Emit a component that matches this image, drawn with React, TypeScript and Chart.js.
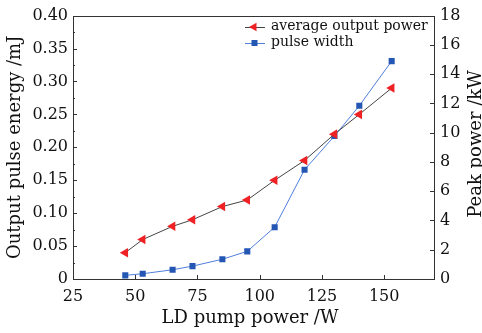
import React, { useEffect, useRef } from "react";
import { Chart, registerables } from "chart.js";

Chart.register(...registerables);

const pumpPower = [46, 53, 65, 73, 85, 95, 106, 118, 130, 140, 153];
const pulseEnergy = [0.04, 0.06, 0.08, 0.09, 0.11, 0.12, 0.15, 0.18, 0.22, 0.25, 0.29];
const peakPower = [0.25, 0.36, 0.63, 0.88, 1.35, 1.89, 3.54, 7.47, 9.77, 11.84, 14.89];
const seriesNames = ["average output power", "pulse width"];
const xTitle = "LD pump power /W";
const yLeftTitle = "Output pulse energy /mJ";
const yRightTitle = "Peak power /kW";

const FONT = '"DejaVu Serif", "Liberation Serif", serif';
const RED = "#ee2225";
const BLUE_MARK = "#2456b4";
const BLUE_LINE = "#4f7fdc";
const DARK_LINE = "#444444";
const AXIS = "#333333";

function drawTriangleLeft(ctx: CanvasRenderingContext2D, x: number, y: number, r: number) {
  ctx.beginPath();
  ctx.moveTo(x - r, y);
  ctx.lineTo(x + r * 0.5, y - r * 0.866);
  ctx.lineTo(x + r * 0.5, y + r * 0.866);
  ctx.closePath();
  ctx.fill();
}

const framePlugin = {
  id: "frame",
  beforeDatasetsDraw(chart: any) {
    const ctx = chart.ctx as CanvasRenderingContext2D;
    const a = chart.chartArea;
    ctx.save();
    ctx.strokeStyle = AXIS;
    ctx.lineWidth = 1;
    ctx.strokeRect(Math.round(a.left) + 0.5, Math.round(a.top) + 0.5, Math.round(a.right - a.left), Math.round(a.bottom - a.top));
    const tl = 4;
    const xs = chart.scales.x;
    ctx.beginPath();
    xs.ticks.forEach((t: any) => {
      const px = Math.round(xs.getPixelForValue(t.value)) + 0.5;
      ctx.moveTo(px, a.bottom);
      ctx.lineTo(px, a.bottom - tl);
    });
    const yl = chart.scales.y;
    yl.ticks.forEach((t: any, i: number) => {
      const py = Math.round(yl.getPixelForValue(t.value)) + 0.5;
      ctx.moveTo(a.left, py);
      ctx.lineTo(a.left + tl, py);
      if (i < yl.ticks.length - 1) {
        const pm = Math.round(yl.getPixelForValue(t.value + 0.025)) + 0.5;
        ctx.moveTo(a.left, pm);
        ctx.lineTo(a.left + 2, pm);
      }
    });
    const yr = chart.scales.y1;
    yr.ticks.forEach((t: any) => {
      const py = Math.round(yr.getPixelForValue(t.value)) + 0.5;
      ctx.moveTo(a.right, py);
      ctx.lineTo(a.right - tl, py);
    });
    ctx.stroke();
    ctx.restore();
  },
  afterDraw(chart: any) {
    const ctx = chart.ctx as CanvasRenderingContext2D;
    const a = chart.chartArea;
    ctx.save();
    ctx.fillStyle = "#111";
    ctx.font = `18px ${FONT}`;
    ctx.textAlign = "center";
    ctx.textBaseline = "alphabetic";
    ctx.fillText(xTitle, 250, 323);
    const cy = (a.top + a.bottom) / 2;
    ctx.save();
    ctx.translate(19.5, cy);
    ctx.rotate(-Math.PI / 2);
    ctx.fillText(yLeftTitle, 0, 0);
    ctx.restore();
    ctx.save();
    ctx.translate(481, 144);
    ctx.rotate(-Math.PI / 2);
    ctx.fillText(yRightTitle, 0, 0);
    ctx.restore();

    // legend
    const rows = [
      { y: 26.5, line: DARK_LINE, color: RED, tri: true, text: seriesNames[0] },
      { y: 42.5, line: BLUE_LINE, color: BLUE_MARK, tri: false, text: seriesNames[1] },
    ];
    ctx.font = `14px ${FONT}`;
    ctx.textAlign = "left";
    ctx.textBaseline = "middle";
    rows.forEach((r) => {
      ctx.strokeStyle = r.line;
      ctx.lineWidth = 1;
      ctx.beginPath();
      ctx.moveTo(245, Math.round(r.y) + 0.5);
      ctx.lineTo(265, Math.round(r.y) + 0.5);
      ctx.stroke();
      ctx.fillStyle = r.color;
      if (r.tri) drawTriangleLeft(ctx, 254, r.y + 0.5, 5);
      else ctx.fillRect(251.5, r.y - 2.5, 6, 6);
      ctx.fillStyle = "#111";
      ctx.fillText(r.text, 271, r.y);
    });
    ctx.restore();
  },
};

export default function App() {
  const ref = useRef<HTMLCanvasElement>(null);
  useEffect(() => {
    if (!ref.current) return;
    const chart = new Chart(ref.current, {
      type: "line",
      data: {
        datasets: [
          {
            label: seriesNames[0],
            data: pumpPower.map((x, i) => ({ x, y: pulseEnergy[i] })),
            yAxisID: "y",
            borderColor: DARK_LINE,
            borderWidth: 1,
            pointStyle: "triangle",
            pointRotation: -90,
            pointRadius: 5.5,
            pointBackgroundColor: RED,
            pointBorderColor: RED,
            pointBorderWidth: 0,
            tension: 0,
          },
          {
            label: seriesNames[1],
            data: pumpPower.map((x, i) => ({ x, y: peakPower[i] })),
            yAxisID: "y1",
            borderColor: BLUE_LINE,
            borderWidth: 1,
            pointStyle: "rect",
            pointRadius: 4.3,
            pointBackgroundColor: BLUE_MARK,
            pointBorderColor: BLUE_MARK,
            pointBorderWidth: 0,
            tension: 0,
          },
        ],
      },
      options: {
        responsive: false,
        animation: false,
        devicePixelRatio: 1,
        layout: { padding: { top: 13, left: 0, right: 0, bottom: 0 } },
        plugins: { legend: { display: false }, tooltip: { enabled: false } },
        scales: {
          x: {
            type: "linear",
            min: 25,
            max: 170,
            grid: { display: false, drawTicks: false },
            border: { display: false },
            afterBuildTicks: (s: any) => {
              s.ticks = s.ticks.filter((t: any) => t.value % 25 === 0);
            },
            afterFit: (s: any) => {
              s.height = 54;
            },
            ticks: {
              stepSize: 25,
              padding: 8,
              color: "#111",
              font: { family: FONT, size: 16 },
              maxRotation: 0,
              autoSkip: false,
            },
          },
          y: {
            position: "left",
            min: 0,
            max: 0.4,
            grid: { display: false, drawTicks: false },
            border: { display: false },
            afterFit: (s: any) => {
              s.width = 73;
            },
            ticks: {
              stepSize: 0.05,
              padding: 5,
              color: "#111",
              font: { family: FONT, size: 16 },
              callback: (v: any) => (Number(v) === 0 ? "0" : Number(v).toFixed(2)),
            },
          },
          y1: {
            position: "right",
            min: 0,
            max: 18,
            grid: { display: false, drawTicks: false },
            border: { display: false },
            afterFit: (s: any) => {
              s.width = 48;
            },
            ticks: {
              stepSize: 2,
              padding: 6,
              color: "#111",
              font: { family: FONT, size: 16 },
            },
          },
        },
      },
      plugins: [framePlugin],
    });
    return () => chart.destroy();
  }, []);
  return (
    <div style={{ position: "fixed", left: 0, top: 0, width: 482, height: 333, background: "#fff" }}>
      <canvas ref={ref} width={482} height={333} style={{ display: "block" }} />
    </div>
  );
}
